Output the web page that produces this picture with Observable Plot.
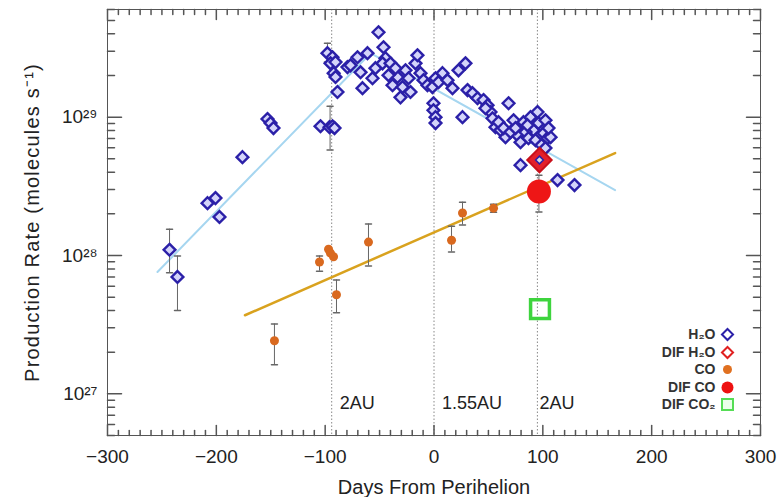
<!DOCTYPE html>
<html><head><meta charset="utf-8">
<script src="https://cdn.jsdelivr.net/npm/d3@7"></script>
<script src="https://cdn.jsdelivr.net/npm/@observablehq/plot@0.6"></script>
<style>body{margin:0;background:#fff}</style>
</head><body><div id="chart"></div>
<script>
// ---- Data ----
const h2oDays = [-243.0,-235.7,-208.1,-200.8,-197.1,-176.0,-153.0,-150.2,-147.5,-104.3,-96.0,-93.3,-91.4,
  -97.9,-93.3,-95.1,-90.5,-79.5,-92.2,-90.5,-88.7,-76.7,-70.3,-61.1,-65.7,-56.5,-53.8,-51.0,-46.4,-44.6,
  -47.3,-40.0,-38.1,-33.5,-30.8,-28.9,-26.2,-23.4,-21.6,-17.0,-15.2,-12.4,-9.6,-6.0,-1.4,1.4,4.1,7.8,
  -0.5,-0.5,1.4,1.4,22.5,28.9,26.2,30.8,35.4,40.0,45.5,49.2,51.9,56.5,61.1,65.7,68.5,73.1,76.7,79.5,82.2,
  88.7,91.4,96.0,100.6,104.3,107.1,79.5,113.5,129.1,
  47.3,53.8,59.3,63.9,70.3,74.9,84.1,86.8,93.3,98.8,102.4,85.9,95.1,102.4,105.2,17.0,12.4,-67.5,-35.4,-41.8];
const h2oRates = [1.10e28,7.0e27,2.39e28,2.60e28,1.90e28,5.14e28,9.7e28,9.06e28,8.34e28,8.6e28,8.47e28,8.6e28,8.34e28,
  2.90e29,2.71e29,2.45e29,2.5e29,2.30e29,2.08e29,1.95e29,1.52e29,2.37e29,2.71e29,2.90e29,1.62e29,1.91e29,2.26e29,4.11e29,3.20e29,2.67e29,
  2.45e29,2.45e29,1.70e29,1.95e29,1.39e29,1.65e29,2.18e29,1.91e29,1.52e29,2.45e29,2.80e29,2.08e29,1.85e29,1.70e29,1.65e29,1.91e29,1.79e29,2.08e29,
  1.26e29,1.12e29,1.0e29,9.06e28,2.18e29,2.45e29,1.0e29,1.57e29,1.49e29,1.37e29,1.33e29,1.22e29,1.09e29,8.47e28,8.06e28,7.17e28,1.26e29,9.5e28,7.41e28,6.59e28,9.2e28,
  1.0e29,8.06e28,9.06e28,7.66e28,7.05e28,7.17e28,4.50e28,3.51e28,3.23e28,
  1.16e29,9.8e28,9.2e28,8.34e28,7.8e28,8.34e28,7.8e28,7.05e28,6.82e28,6.28e28,5.98e28,8.75e28,1.09e29,9.5e28,8.34e28,1.62e29,1.85e29,2.11e29,2.26e29,2.01e29];
const h2oErrDays = [-243.0,-235.7,-95.5,-97.9];
const h2oErrLow  = [7.5e27,4.0e27,5.8e28,2.5e29];
const h2oErrHigh = [1.55e28,9.9e27,1.2e29,3.42e29];

const coDays  = [-146.6,-105.2,-96.9,-95.1,-92.3,-89.6,-60.2,16.1,26.2,54.7];
const coRates = [2.42e27,8.98e27,1.11e28,1.04e28,9.8e27,5.2e27,1.25e28,1.29e28,2.03e28,2.2e28];
const coErrLow  = [1.62e27,7.7e27,null,null,null,3.85e27,8.4e27,1.06e28,1.66e28,2.05e28];
const coErrHigh = [3.2e27,9.9e27,null,null,null,6.66e27,1.69e28,1.63e28,2.43e28,2.35e28];

const difH2O = {day: 96.9, rate: 4.9e28};
const difCO  = {day: 96.4, rate: 2.9e28, lo: 2.06e28, hi: 3.81e28};
const difCO2 = {day: 97.4, rate: 4.1e27};

const h2oFitPreDays = [-254.1, -58.3], h2oFitPreRates = [7.6e27, 2.9e29];
const h2oFitPostDays = [-58.3, 166.4], h2oFitPostRates = [2.9e29, 2.97e28];
const coFitDays = [-173.7, 166.4], coFitRates = [3.7e27, 5.5e28];

const auDays = [-94, 0, 95];
const auLabels = ["2AU", "1.55AU", "2AU"];

const xTicks = [-300,-200,-100,0,100,200,300];
const yTicks = [1e27,1e28,1e29];
const legendLabels = ["H\u2082O", "DIF H\u2082O", "CO", "DIF CO", "DIF CO\u2082"];
const xTitle = "Days From Perihelion";
const yTitle = "Production Rate (molecules s\u207B\u00B9)";

// ---- Build tables ----
const h2o = h2oDays.map((d,i)=>({d, r:h2oRates[i]}));
const h2oErr = h2oErrDays.map((d,i)=>({d, lo:h2oErrLow[i], hi:h2oErrHigh[i]}));
const co = coDays.map((d,i)=>({d, r:coRates[i], lo:coErrLow[i], hi:coErrHigh[i]}));
const coErr = co.filter(c=>c.lo!=null);
const errs = h2oErr.concat(coErr, [{d:difCO.day, lo:difCO.lo, hi:difCO.hi}]);
const fitPre = h2oFitPreDays.map((d,i)=>({d, r:h2oFitPreRates[i]}));
const fitPost = h2oFitPostDays.map((d,i)=>({d, r:h2oFitPostRates[i]}));
const coFit = coFitDays.map((d,i)=>({d, r:coFitRates[i]}));
const au = auDays.map((d,i)=>({d, label:auLabels[i]}));

const xMinor = d3.range(-300, 301, 10).filter(v => v % 100 !== 0);
const yMinor = [];
for (let e = 26; e <= 29; e++) for (let m = 2; m <= 9; m++) { const v = m*Math.pow(10,e); if (v>=5e26 && v<=6e29) yMinor.push(v); }
const sup = {"0":"\u2070","1":"\u00B9","2":"\u00B2","3":"\u00B3","4":"\u2074","5":"\u2075","6":"\u2076","7":"\u2077","8":"\u2078","9":"\u2079"};
const fmtY = v => "10" + String(Math.round(Math.log10(v))).split("").map(c=>sup[c]).join("");

const capShape = {draw(ctx, l) { ctx.moveTo(-l/2, 0); ctx.lineTo(l/2, 0); }};
const tickUp = {draw(c,l){ c.moveTo(0,0); c.lineTo(0,-l); }};
const tickDown = {draw(c,l){ c.moveTo(0,0); c.lineTo(0,l); }};
const tickRight = {draw(c,l){ c.moveTo(0,0); c.lineTo(l,0); }};
const tickLeft = {draw(c,l){ c.moveTo(0,0); c.lineTo(-l,0); }};
const ERR = "#666";
const BLUE = "#2b20a8";
const AX = "#555";

function ticksX(vals, len) {
  return [
    Plot.vector(vals, {x:d=>d, frameAnchor:"bottom", length:len, shape:tickUp, anchor:"start", stroke:AX}),
    Plot.vector(vals, {x:d=>d, frameAnchor:"top", length:len, shape:tickDown, anchor:"start", stroke:AX})
  ];
}
function ticksY(vals, len) {
  return [
    Plot.vector(vals, {y:d=>d, frameAnchor:"left", length:len, shape:tickRight, anchor:"start", stroke:AX}),
    Plot.vector(vals, {y:d=>d, frameAnchor:"right", length:len, shape:tickLeft, anchor:"start", stroke:AX})
  ];
}

// Legend marks
const legY = [-101, -83, -66, -48, -31];
const legSymbols = [
  {symbol:"diamond2", r:5, fill:"white", stroke:BLUE, strokeWidth:2},
  {symbol:"diamond2", r:5, fill:"white", stroke:"#e02020", strokeWidth:2},
  {symbol:"circle", r:4.5, fill:"#e07020", stroke:"none"},
  {symbol:"circle", r:6, fill:"#ee1111", stroke:"none"},
  {symbol:"square2", r:7, fill:"#eaffea", stroke:"#55dd55", strokeWidth:2}
];
const legendMarks = [];
legendLabels.forEach((lab, i) => {
  legendMarks.push(Plot.text([lab], {text: d=>d, frameAnchor:"bottom-right", dx:-45, dy:legY[i], textAnchor:"end", lineAnchor:"middle", fontSize:14, fontWeight:"bold", fill:"#333"}));
  legendMarks.push(Plot.dot([0], {frameAnchor:"bottom-right", dx:-33, dy:legY[i], ...legSymbols[i]}));
});

const chart = Plot.plot({
  width: 779, height: 497,
  marginLeft: 107, marginRight: 19, marginTop: 9, marginBottom: 62,
  style: {fontFamily: "'Liberation Sans', Arial, sans-serif", fontSize: "19px", background: "white", color: "#222"},
  x: {domain: [-300, 300]},
  y: {type: "log", domain: [5e26, 6e29]},
  marks: [
    Plot.ruleX(au, {x:"d", stroke:"#888", strokeWidth:1, strokeDasharray:"1.5,2"}),
    Plot.line(fitPre, {x:"d", y:"r", stroke:"#a6d6f0", strokeWidth:2}),
    Plot.line(fitPost, {x:"d", y:"r", stroke:"#a6d6f0", strokeWidth:2}),
    Plot.line(coFit, {x:"d", y:"r", stroke:"#d9a21e", strokeWidth:2.5}),
    Plot.ruleX(errs, {x:"d", y1:"lo", y2:"hi", stroke:ERR, strokeWidth:1}),
    Plot.vector(errs, {x:"d", y:"lo", length:6, shape:capShape, anchor:"start", stroke:ERR}),
    Plot.vector(errs, {x:"d", y:"hi", length:6, shape:capShape, anchor:"start", stroke:ERR}),
    Plot.dot(h2o, {x:"d", y:"r", symbol:"diamond2", r:5.3, fill:"#d4d4fa", stroke:BLUE, strokeWidth:2.4}),
    Plot.dot(co, {x:"d", y:"r", r:4.5, fill:"#d9691f", stroke:"none"}),
    Plot.dot([difH2O], {x:"day", y:"rate", symbol:"diamond2", r:11, fill:"#e3202a", stroke:"#c8101a", strokeWidth:2}),
    Plot.dot([difH2O], {x:"day", y:"rate", symbol:"diamond2", r:3.5, fill:"#ddd", stroke:BLUE, strokeWidth:1.5}),
    Plot.dot([difCO], {x:"day", y:"rate", r:12, fill:"#ee1616", stroke:"none"}),
    Plot.dot([difCO2], {x:"day", y:"rate", symbol:"square2", r:12, fill:"none", stroke:"#3ed43e", strokeWidth:3.5}),
    Plot.text(au.slice(0,2), {x:"d", text:"label", frameAnchor:"bottom", dy:-32, dx:8, textAnchor:"start", lineAnchor:"middle", fontSize:18, fill:"#222"}),
    Plot.text(au.slice(2), {x:"d", text:"label", frameAnchor:"bottom", dy:-32, dx:2, textAnchor:"start", lineAnchor:"middle", fontSize:18, fill:"#222"}),
    Plot.frame({stroke:AX}),
    ...ticksX(xTicks, 10), ...ticksX(xMinor, 5),
    ...ticksY(yTicks, 14), ...ticksY(yMinor, 7),
    Plot.axisX({anchor:"bottom", ticks:xTicks, tickSize:0, tickPadding:14, fontSize:19, label:null}),
    Plot.axisY({anchor:"left", ticks:yTicks, tickSize:0, tickPadding:10, tickFormat:fmtY, fontSize:19, label:null}),
    Plot.text([xTitle], {text:d=>d, frameAnchor:"bottom", dy:52, lineAnchor:"middle", fontSize:20, fill:"#222"}),
    Plot.text([yTitle], {text:d=>d, frameAnchor:"left", dx:-75, rotate:-90, textAnchor:"middle", lineAnchor:"middle", fontSize:20, fill:"#222", style:"letter-spacing:1.2px"}),
    ...legendMarks
  ]
});
// letter-spacing for the y title (IDL fonts are wider)
d3.select(chart).selectAll("text").filter(function(){ return this.textContent === yTitle; }).style("letter-spacing", "1.2px");
document.getElementById("chart").appendChild(chart);
</script>
</body></html>
